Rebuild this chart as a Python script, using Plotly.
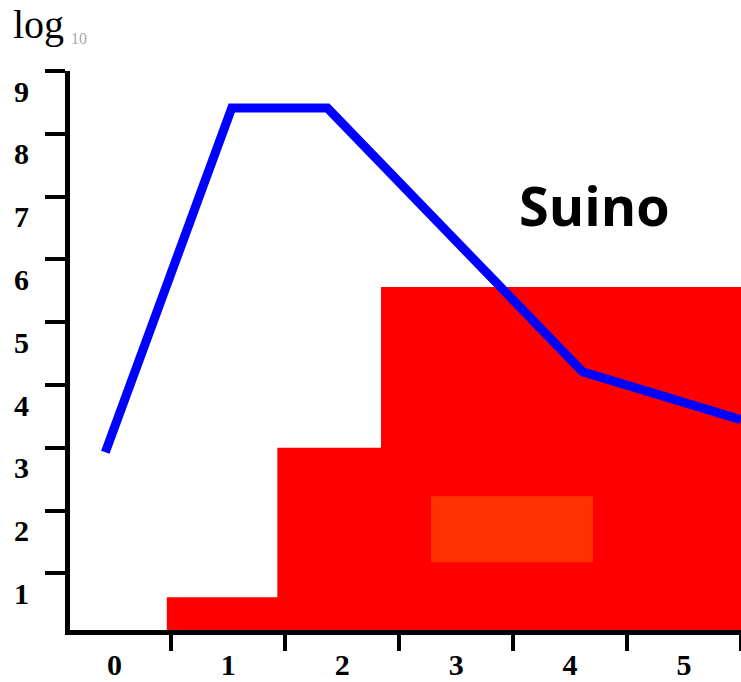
import plotly.graph_objects as go

# ---- data ----
x_labels = ["0", "1", "2", "3", "4", "5"]
x_label_pos = [0, 1, 2, 3, 4, 5]
x_tick_pos = [0.5, 1.5, 2.5, 3.5, 4.5, 5.5]
y_ticks = [1, 2, 3, 4, 5, 6, 7, 8, 9]

# blue curve (log10 values)
line_x = [-0.08, 1.03, 1.87, 4.11, 5.5]
line_y = [2.93, 8.41, 8.41, 4.21, 3.45]

# red step area
step_x = [0.46, 1.43, 2.34, 5.5]
step_y = [0.62, 3.0, 5.56, 5.56]

# orange block (corners)
block_x = [2.78, 4.20, 4.20, 2.78, 2.78]
block_y = [1.18, 1.18, 2.23, 2.23, 1.18]

fig = go.Figure()

fig.add_trace(go.Scatter(
    x=step_x, y=step_y, mode="lines", line=dict(shape="hv", width=0, color="#FF0000"),
    fill="tozeroy", fillcolor="#FF0000", hoverinfo="skip", showlegend=False))

fig.add_trace(go.Scatter(
    x=block_x, y=block_y, mode="lines", line=dict(width=0, color="#FF3300"),
    fill="toself", fillcolor="#FF3300", hoverinfo="skip", showlegend=False))

fig.add_trace(go.Scatter(
    x=line_x, y=line_y, mode="lines", line=dict(color="#0000FF", width=9),
    showlegend=False))

tickfont = dict(family="Liberation Serif", size=30, color="black", weight="bold")

fig.update_layout(
    width=741, height=682,
    margin=dict(l=70, r=0, t=71, b=52, autoexpand=False),
    plot_bgcolor="white", paper_bgcolor="white",
    xaxis=dict(
        range=[-0.39, 5.5], showgrid=False, zeroline=False, automargin=False,
        showline=True, linecolor="black", linewidth=5,
        tickmode="array", tickvals=x_label_pos, ticktext=x_labels,
        ticks="outside", ticklen=4, tickwidth=4, tickcolor="rgba(0,0,0,0)",
        tickfont=tickfont,
        minor=dict(tickmode="array", tickvals=x_tick_pos, ticks="outside",
                   ticklen=16, tickwidth=4, tickcolor="black", showgrid=False),
    ),
    yaxis=dict(
        range=[0.1, 9], showgrid=False, zeroline=False, automargin=False,
        showline=True, linecolor="black", linewidth=5,
        tickmode="array", tickvals=y_ticks, ticktext=[str(v) for v in y_ticks],
        ticks="outside", ticklen=20, tickwidth=4, tickcolor="black",
        tickfont=tickfont, ticklabelshift=20, ticklabelstandoff=10,
    ),
    annotations=[
        dict(text="<b>Suino</b>", xref="paper", yref="paper", x=0.782, y=0.76,
             xanchor="center", yanchor="middle", showarrow=False,
             font=dict(family="Open Sans", size=54, color="black")),
        dict(text="log", xref="paper", yref="paper", x=-0.088, y=1.083,
             xanchor="left", yanchor="middle", showarrow=False,
             font=dict(family="Liberation Serif", size=40, color="black")),
        dict(text="10", xref="paper", yref="paper", x=0.013, y=1.058,
             xanchor="center", yanchor="middle", showarrow=False,
             font=dict(family="Liberation Serif", size=16, color="#AAAAAA")),
    ],
)

fig.write_html("out.html")
